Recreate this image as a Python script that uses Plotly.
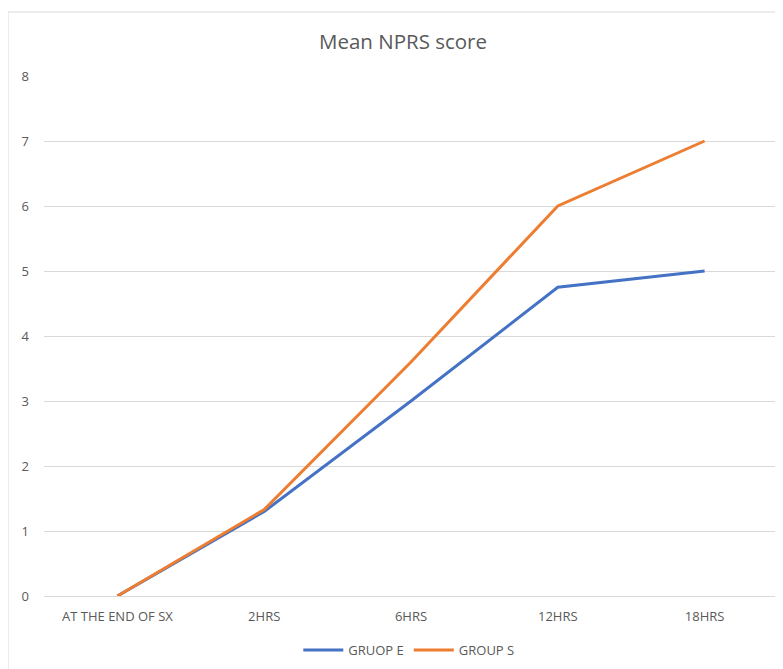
import plotly.graph_objects as go

categories = ["AT THE END OF SX", "2HRS", "6HRS", "12HRS", "18HRS"]
group_e = [0, 1.3, 3.0, 4.75, 5.0]
group_s = [0, 1.33, 3.6, 6.0, 7.0]

FONT = "Open Sans"
GREY = "#595959"

# plot area in figure pixels
L, T, W, H = 36, 68, 734, 520

fig = go.Figure()
fig.add_trace(go.Scatter(x=categories, y=group_e, mode="lines", name="GRUOP E",
                         line=dict(color="#4472C4", width=3)))
fig.add_trace(go.Scatter(x=categories, y=group_s, mode="lines", name="GROUP S",
                         line=dict(color="#ED7D31", width=3)))

fig.update_layout(
    width=783, height=669,
    margin=dict(l=L, r=783 - L - W, t=T, b=669 - T - H),
    paper_bgcolor="white", plot_bgcolor="white",
    font=dict(family=FONT, color=GREY, size=12),
    title=dict(text="Mean NPRS score", x=(395 - L) / W, xref="paper", xanchor="center",
               y=1 - 34 / 669, yanchor="middle",
               font=dict(family=FONT, size=20.5, color=GREY)),
    showlegend=True,
    legend=dict(orientation="h", x=0.497, xanchor="center", y=-54 / H, yanchor="middle",
                font=dict(size=13, color=GREY), itemwidth=40, traceorder="normal"),
    xaxis=dict(type="category", range=[-0.5, 4.5], showgrid=False, showline=False, zeroline=False,
               ticks="", tickfont=dict(size=13, color=GREY), ticklabelstandoff=11,
               automargin=False),
    yaxis=dict(range=[0, 8], dtick=1, showgrid=True, gridcolor="#d9d9d9", gridwidth=1,
               zeroline=True, zerolinecolor="#d9d9d9", zerolinewidth=1,
               showline=False, ticks="", tickfont=dict(size=13, color=GREY),
               ticklabelstandoff=14, automargin=False, fixedrange=True),
    shapes=[dict(type="rect", xref="paper", yref="paper",
                 x0=-L / W, x1=1.0 + 3 / W, y0=-1.0, y1=(T + H - 4) / H,
                 line=dict(color="#d9d9d9", width=1), fillcolor="rgba(0,0,0,0)", layer="below")],
)

fig.write_html("out.html")
